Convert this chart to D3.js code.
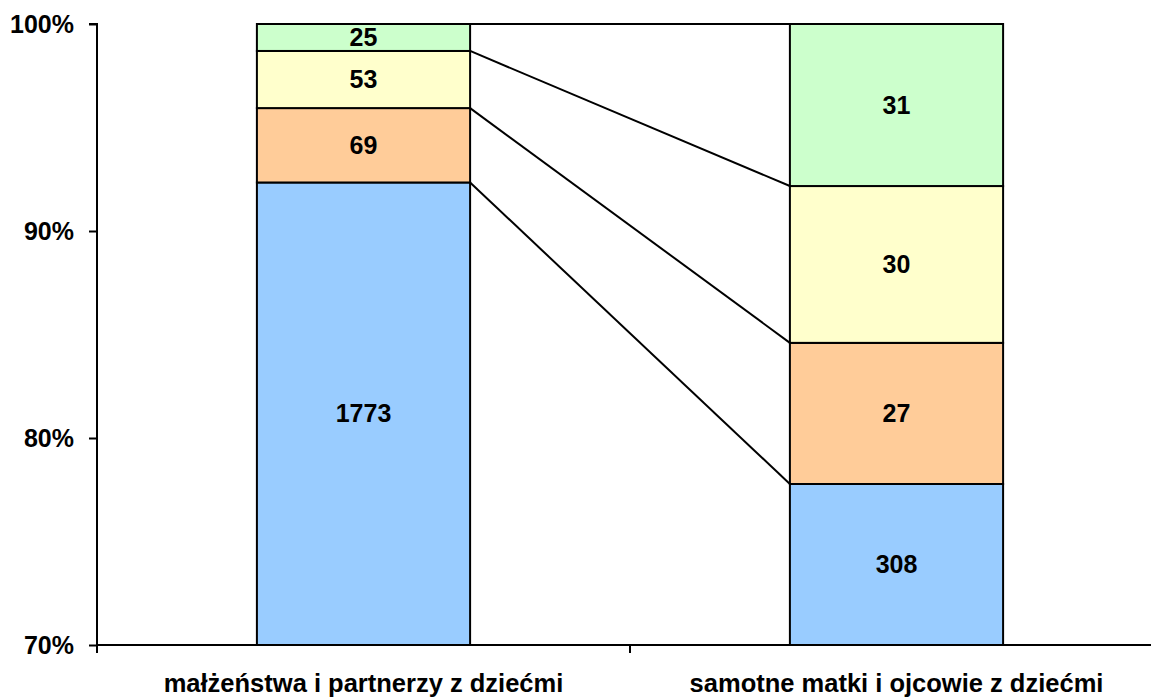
<!DOCTYPE html>
<html>
<head>
<meta charset="utf-8">
<script src="https://cdn.jsdelivr.net/npm/d3@7"></script>
<style>
  body { margin: 0; background: #fff; }
  text { font-family: "Liberation Sans", Arial, sans-serif; font-weight: bold; fill: #000; }
</style>
</head>
<body>
<div id="chart"></div>
<script>
// ---- data ----
const categories = ["małżeństwa i partnerzy z dziećmi", "samotne matki i ojcowie z dziećmi"];
const seriesNames = ["s1", "s2", "s3", "s4"];
const s1 = [1773, 308];
const s2 = [69, 27];
const s3 = [53, 30];
const s4 = [25, 31];
const seriesColors = ["#99CCFF", "#FFCC99", "#FFFFCC", "#CCFFCC"];
const yTicks = [0.7, 0.8, 0.9, 1.0];

const width = 1151, height = 698;
const margin = { top: 24, left: 97, bottom: 53 };
const plotRight = 1163;
const fontSize = "25px";

const svg = d3.select("#chart").append("svg")
  .attr("width", width).attr("height", height);

const rows = categories.map((c, i) => ({
  cat: c, s1: s1[i], s2: s2[i], s3: s3[i], s4: s4[i]
}));

const stacked = d3.stack().keys(seriesNames).offset(d3.stackOffsetExpand)(rows);

const x = d3.scaleBand()
  .domain(categories)
  .range([margin.left, plotRight])
  .paddingInner(0.6)
  .paddingOuter(0.3);

const y = d3.scaleLinear()
  .domain([0.7, 1])
  .range([height - margin.bottom, margin.top]);

svg.append("clipPath").attr("id", "plotClip")
  .append("rect")
  .attr("x", margin.left).attr("y", margin.top - 2)
  .attr("width", plotRight - margin.left)
  .attr("height", y(0.7) - margin.top + 2);

const plot = svg.append("g").attr("clip-path", "url(#plotClip)");

// bars
stacked.forEach((layer, k) => {
  plot.selectAll(null)
    .data(layer)
    .enter()
    .append("rect")
    .attr("x", d => x(d.data.cat))
    .attr("width", x.bandwidth())
    .attr("y", d => y(d[1]))
    .attr("height", d => y(d[0]) - y(d[1]))
    .attr("fill", seriesColors[k])
    .attr("stroke", "#000")
    .attr("stroke-width", 2);
});

// series lines (top of each segment, bar 1 right edge -> bar 2 left edge)
stacked.forEach(layer => {
  plot.append("line")
    .attr("x1", x(categories[0]) + x.bandwidth())
    .attr("y1", y(layer[0][1]))
    .attr("x2", x(categories[1]))
    .attr("y2", y(layer[1][1]))
    .attr("stroke", "#000")
    .attr("stroke-width", 2);
});

// value labels
stacked.forEach((layer, k) => {
  svg.selectAll(null)
    .data(layer)
    .enter()
    .append("text")
    .attr("x", d => x(d.data.cat) + x.bandwidth() / 2)
    .attr("y", d => (y(Math.max(d[0], 0.7)) + y(d[1])) / 2)
    .attr("dy", "0.35em")
    .attr("text-anchor", "middle")
    .style("font-size", fontSize)
    .text(d => d.data[seriesNames[k]]);
});

// y axis
const yAxis = svg.append("g")
  .attr("transform", `translate(${margin.left},0)`)
  .call(d3.axisLeft(y).tickValues(yTicks).tickFormat(d3.format(".0%")).tickSize(8).tickPadding(15));
yAxis.select(".domain").attr("stroke", "#000").attr("stroke-width", 2)
  .attr("d", `M-8,${y(1)}H0V${y(0.7)}`);
yAxis.selectAll(".tick line").attr("stroke", "#000").attr("stroke-width", 2);
yAxis.selectAll(".tick text").style("font-size", fontSize)
  .attr("font-family", null).style("font-weight", "bold");

// x axis
const step = x.step();
const boundaries = [0, 1, 2].map(i => margin.left + i * step);
const xAxisG = svg.append("g");
xAxisG.append("line")
  .attr("x1", margin.left).attr("x2", plotRight)
  .attr("y1", y(0.7)).attr("y2", y(0.7))
  .attr("stroke", "#000").attr("stroke-width", 2);
xAxisG.selectAll(null).data(boundaries).enter().append("line")
  .attr("x1", d => d).attr("x2", d => d)
  .attr("y1", y(0.7)).attr("y2", y(0.7) + 8)
  .attr("stroke", "#000").attr("stroke-width", 2);
xAxisG.selectAll(null).data(categories).enter().append("text")
  .attr("x", d => x(d) + x.bandwidth() / 2)
  .attr("y", 692)
  .attr("text-anchor", "middle")
  .style("font-size", "25.5px")
  .text(d => d);
</script>
</body>
</html>
